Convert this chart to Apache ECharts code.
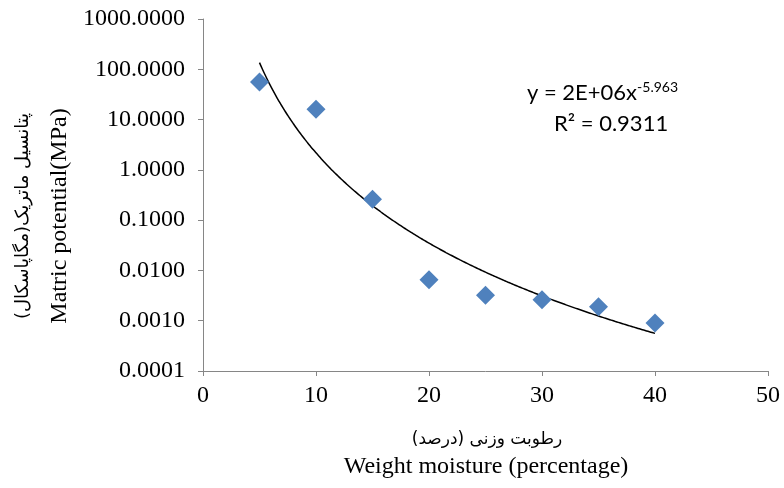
<!DOCTYPE html>
<html>
<head>
<meta charset="utf-8">
<script src="https://cdn.jsdelivr.net/npm/echarts@6/dist/echarts.min.js"></script>
<style>
  html, body { margin: 0; padding: 0; background: #fff; }
  #main { width: 784px; height: 488px; }
</style>
</head>
<body>
<div id="main"></div>
<script>
// measured points (weight moisture %, matric potential MPa)
var moisture = [5, 10, 15, 20, 25, 30, 35, 40];
var potential = [56, 16, 0.26, 0.0065, 0.0032, 0.0026, 0.0019, 0.0009];

// power trendline as printed on the chart: y = 2E+06 x^-5.963
var trendA = 2e6;
var trendB = -5.963;
var trendFrom = 5, trendTo = 40;

var serif = '"Liberation Serif", "DejaVu Serif", serif';
var persian = '"DejaVu Sans", sans-serif';
var calibri = 'Lato, "Open Sans", sans-serif';

var chart = echarts.init(document.getElementById('main'));

var pts = moisture.map(function (x, i) { return [x, potential[i]]; });
var trend = [];
for (var x = trendFrom; x <= trendTo + 1e-9; x += 0.25) {
    trend.push([x, trendA * Math.pow(x, trendB)]);
}

chart.setOption({
    animation: false,
    grid: { left: 203, right: 16, top: 19, bottom: 117 },
    xAxis: {
        type: 'value',
        min: 0,
        max: 50,
        interval: 10,
        splitLine: { show: false },
        axisLine: { lineStyle: { color: '#868686', width: 1 } },
        axisTick: { show: true, length: 5, lineStyle: { color: '#868686' } },
        axisLabel: { color: '#000', fontFamily: serif, fontSize: 24, margin: 13 }
    },
    yAxis: {
        type: 'log',
        logBase: 10,
        min: 0.0001,
        max: 1000,
        splitNumber: 7,
        splitLine: { show: false },
        axisLine: { show: true, lineStyle: { color: '#868686', width: 1 } },
        axisTick: { show: true, length: 5, lineStyle: { color: '#868686' } },
        axisLabel: {
            color: '#000', fontFamily: serif, fontSize: 24, margin: 18,
            formatter: function (v) { return Number(v).toFixed(4); }
        }
    },
    series: [{
        type: 'scatter',
        data: pts,
        symbol: 'diamond',
        symbolSize: 19,
        itemStyle: { color: '#4F81BD', opacity: 1 },
        z: 3
    }, {
        type: 'line',
        data: trend,
        showSymbol: false,
        smooth: true,
        lineStyle: { color: '#000', width: 1.5 },
        z: 2
    }],
    graphic: [{
        type: 'text',
        left: 527, top: 80,
        style: {
            text: '{b|y = 2E+06x}{s|-5.963}',
            rich: {
                b: { fontFamily: calibri, fontSize: 22, fill: '#000' },
                s: { fontFamily: calibri, fontSize: 14, fill: '#000', padding: [0, 0, 12, 0] }
            }
        }
    }, {
        type: 'text',
        left: 554, top: 113,
        style: {
            text: 'R² = 0.9311',
            font: '22px ' + calibri,
            fill: '#000'
        }
    }, {
        type: 'text',
        x: 60, y: 216,
        rotation: Math.PI / 2,
        style: {
            text: 'Matric potential(MPa)',
            font: '24px ' + serif,
            fill: '#000',
            align: 'center',
            verticalAlign: 'middle'
        }
    }, {
        type: 'text',
        x: 23, y: 216,
        rotation: Math.PI / 2,
        style: {
            text: 'پتانسیل ماتریک(مگاپاسکال)',
            font: '18px ' + persian,
            fill: '#000',
            align: 'center',
            verticalAlign: 'middle'
        }
    }, {
        type: 'text',
        x: 487, y: 440,
        style: {
            text: 'رطوبت وزنی (درصد)',
            font: '17px ' + persian,
            fill: '#000',
            align: 'center',
            verticalAlign: 'middle'
        }
    }, {
        type: 'text',
        x: 486, y: 467,
        style: {
            text: 'Weight moisture (percentage)',
            font: '24px ' + serif,
            fill: '#000',
            align: 'center',
            verticalAlign: 'middle'
        }
    }]
});
</script>
</body>
</html>
